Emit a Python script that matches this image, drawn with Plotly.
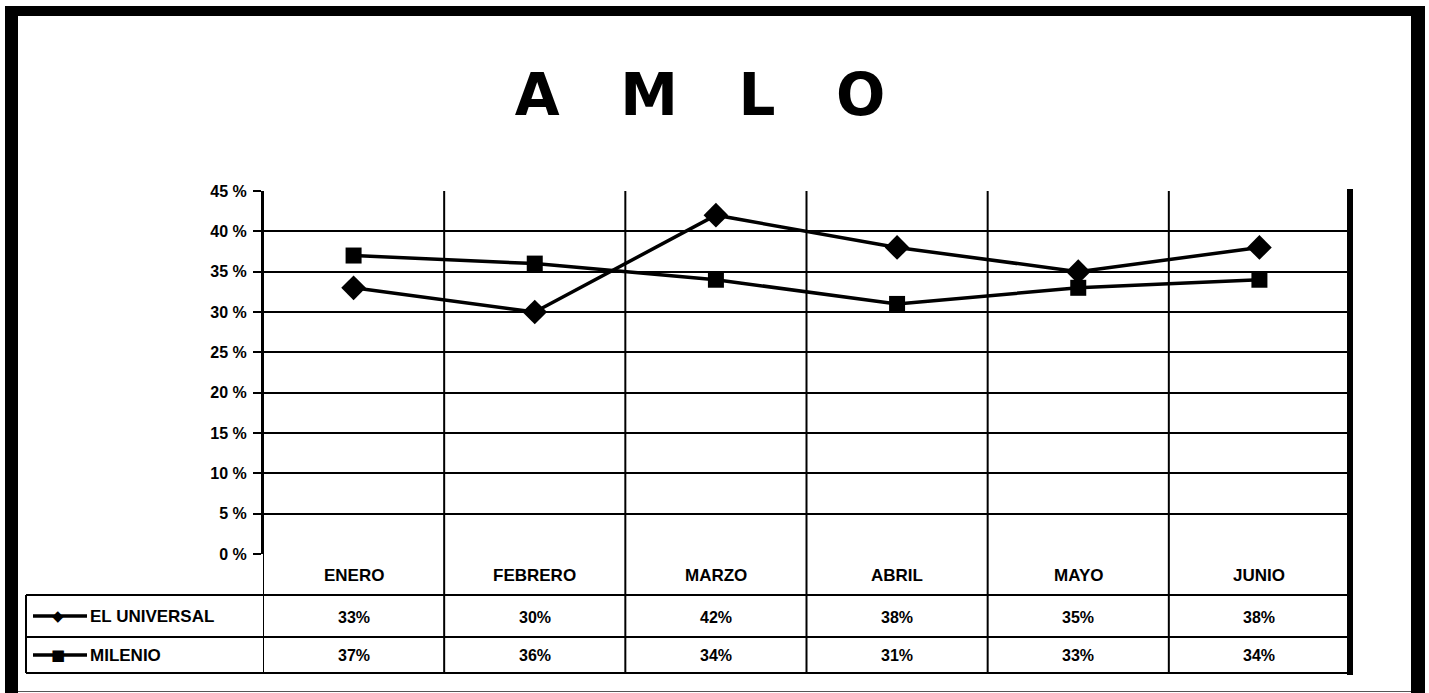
import plotly.graph_objects as go

# ---- data ----
months = ["ENERO", "FEBRERO", "MARZO", "ABRIL", "MAYO", "JUNIO"]
el_universal = [33, 30, 42, 38, 35, 38]
milenio = [37, 36, 34, 31, 33, 34]
y_ticks = [0, 5, 10, 15, 20, 25, 30, 35, 40, 45]
y_tick_labels = ["0 %", "5 %", "10 %", "15 %", "20 %", "25 %", "30 %", "35 %", "40 %", "45 %"]
series_names = ["EL UNIVERSAL", "MILENIO"]
title_text = "AMLO"

W, H = 1429, 693
L, R, T, B = 263, 1350, 191, 554  # plot area in pixels


def px(x):
    return (x - L) / (R - L)


def py(y):
    return (B - y) / (B - T)


fig = go.Figure()
fig.add_trace(go.Scatter(
    x=months, y=el_universal, name=series_names[0], mode="lines+markers",
    line=dict(color="black", width=3.5),
    marker=dict(symbol="diamond", size=19, color="black")))
fig.add_trace(go.Scatter(
    x=months, y=milenio, name=series_names[1], mode="lines+markers",
    line=dict(color="black", width=3.5),
    marker=dict(symbol="square", size=16, color="black")))

shapes = []
line_black = dict(color="black", width=2)
# vertical category boundaries (extend down through the data table)
for i in range(len(months) + 1):
    shapes.append(dict(type="line", xref="x", yref="paper",
                       x0=i - 0.5, x1=i - 0.5, y0=py(673), y1=1,
                       line=line_black, layer="above"))
# table horizontal lines
for yy in [595, 637, 673]:
    shapes.append(dict(type="line", xref="paper", yref="paper",
                       x0=px(26), x1=1, y0=py(yy), y1=py(yy), line=line_black))
# legend box left edge
shapes.append(dict(type="line", xref="paper", yref="paper",
                   x0=px(26), x1=px(26), y0=py(595), y1=py(673), line=line_black))
# thick right edge (shadow)
shapes.append(dict(type="rect", xref="paper", yref="paper",
                   x0=px(1347), x1=px(1353), y0=py(675), y1=py(189),
                   fillcolor="black", line=dict(width=0)))
# outer frame
frame = [(5, 6, 1425, 16), (5, 6, 18, 693), (1411, 6, 1425, 693)]
for x0, y0, x1, y1 in frame:
    shapes.append(dict(type="rect", xref="paper", yref="paper",
                       x0=px(x0), x1=px(x1), y0=py(y1), y1=py(y0),
                       fillcolor="black", line=dict(width=0)))
shapes.append(dict(type="line", xref="paper", yref="paper",
                   x0=px(18), x1=px(1411), y0=py(691.5), y1=py(691.5),
                   line=dict(color="#555555", width=1)))
# legend glyph lines
for yy in [616, 655]:
    shapes.append(dict(type="line", xref="paper", yref="paper",
                       x0=px(33), x1=px(87), y0=py(yy), y1=py(yy),
                       line=dict(color="black", width=3.5)))

annotations = []
txt_font = dict(family="Liberation Sans, Arial", size=16, color="black", weight="bold")
# header row (months)
for m in months:
    annotations.append(dict(x=m, xref="x", y=py(575), yref="paper", text=m,
                            showarrow=False, font=dict(txt_font, size=17),
                            xanchor="center", yanchor="middle"))
# value rows
for vals, yy in [(el_universal, 617), (milenio, 655)]:
    for m, v in zip(months, vals):
        annotations.append(dict(x=m, xref="x", y=py(yy), yref="paper",
                                text=f"{v}%", showarrow=False, font=txt_font,
                                xanchor="center", yanchor="middle"))
# legend labels and markers
for name, sym, yy in [(series_names[0], "◆", 616), (series_names[1], "■", 655)]:
    annotations.append(dict(x=px(88), xref="paper", y=py(yy), yref="paper",
                            text=name, showarrow=False, font=dict(txt_font, size=17),
                            xanchor="left", yanchor="middle"))
    annotations.append(dict(x=px(58), xref="paper", y=py(yy), yref="paper",
                            text=sym, showarrow=False,
                            font=dict(family="DejaVu Sans", size=15, color="black"),
                            xanchor="center", yanchor="middle"))

fig.update_layout(
    width=W, height=H,
    margin=dict(l=L, r=W - R, t=T, b=H - B, pad=0),
    paper_bgcolor="white", plot_bgcolor="white",
    showlegend=False,
    title=dict(text="\u00a0\u00a0\u00a0".join(title_text),
               x=700 / W, xanchor="center", y=1 - 95 / H, yanchor="middle",
               xref="container", yref="container",
               font=dict(family="DejaVu Sans", size=58, color="black", weight="bold")),
    shapes=shapes,
    annotations=annotations,
)
fig.update_xaxes(type="category", range=[-0.5, len(months) - 0.5],
                 showgrid=False, showticklabels=False, ticks="",
                 zeroline=False, showline=False, fixedrange=True)
fig.update_yaxes(range=[0, 45], tickmode="array", tickvals=y_ticks,
                 ticktext=y_tick_labels,
                 showgrid=True, gridcolor="black", gridwidth=1.5,
                 zeroline=False, showline=True, linecolor="black", linewidth=2,
                 ticks="outside", ticklen=8, tickwidth=1.5, tickcolor="black",
                 ticklabelstandoff=3,
                 tickfont=dict(family="Liberation Sans, Arial", size=16,
                               color="black", weight="bold"),
                 fixedrange=True)

fig.write_html("out.html")
